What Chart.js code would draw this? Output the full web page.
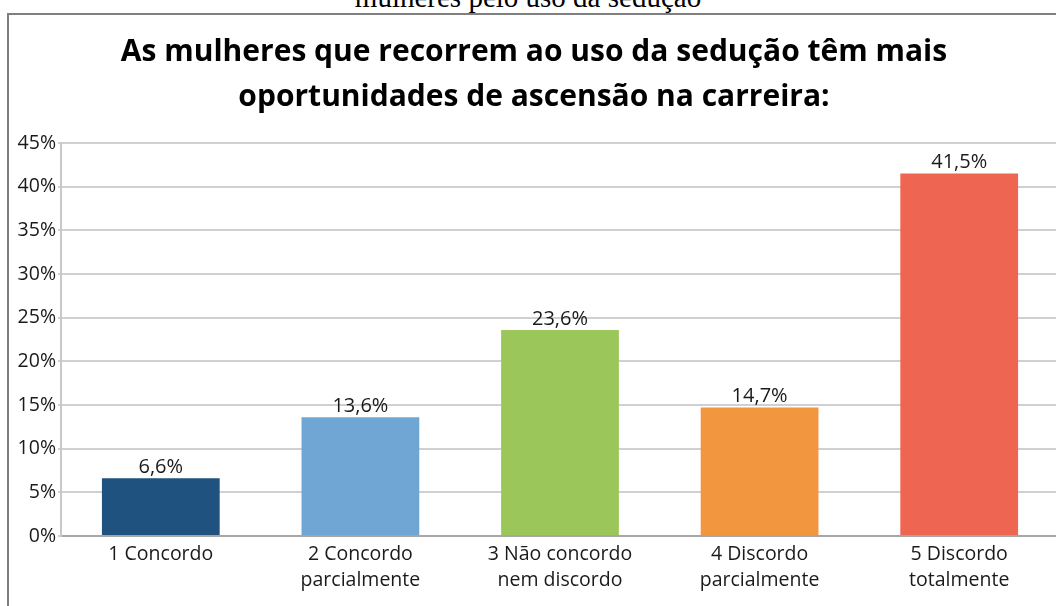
<!DOCTYPE html>
<html lang="pt">
<head>
<meta charset="utf-8">
<script src="https://cdn.jsdelivr.net/npm/chart.js@4.4.1/dist/chart.umd.min.js"></script>
<style>
    html, body { margin: 0; padding: 0; background: #fff; overflow: hidden; width: 1056px; height: 606px; }
    .caption {
        position: absolute; left: 0; top: -19px; width: 1056px; text-align: center;
        font-family: "Liberation Serif", "DejaVu Serif", serif; font-size: 29px; color: #000;
    }
    .frame {
        position: absolute; left: 7px; top: 13px; width: 1080px; height: 620px;
        border: 2px solid #7f7f7f; background: #fff;
    }
    .chart-box { position: absolute; left: 0; top: 0; width: 1060px; height: 600px; }
</style>
</head>
<body>
<div class="caption">mulheres pelo uso da sedução</div>
<div class="frame">
    <div class="chart-box"><canvas id="chart"></canvas></div>
</div>
<script>
    const categories = [
        ['1 Concordo'],
        ['2 Concordo', 'parcialmente'],
        ['3 Não concordo', 'nem discordo'],
        ['4 Discordo', 'parcialmente'],
        ['5 Discordo', 'totalmente']
    ];
    const percentages = [6.6, 13.6, 23.6, 14.7, 41.5];
    const barColors = ['#1f527f', '#6fa6d4', '#9bc65a', '#f39640', '#ee6651'];
    const titleLines = [
        'As mulheres que recorrem ao uso da sedução têm mais',
        'oportunidades de ascensão na carreira:'
    ];

    const fontFamily = '"Open Sans", "Noto Sans", sans-serif';
    const textColor = '#1a1a1a';
    const fmt = v => v.toFixed(1).replace('.', ',') + '%';

    // value labels above each bar
    const barLabels = {
        id: 'barLabels',
        afterDatasetsDraw(chart) {
            const ctx = chart.ctx;
            const meta = chart.getDatasetMeta(0);
            ctx.save();
            ctx.font = '20px ' + fontFamily;
            ctx.fillStyle = textColor;
            ctx.textAlign = 'center';
            ctx.textBaseline = 'bottom';
            meta.data.forEach((bar, i) => {
                ctx.fillText(fmt(percentages[i]), bar.x, bar.y - 1);
            });
            ctx.restore();
        }
    };

    new Chart(document.getElementById('chart'), {
        type: 'bar',
        data: {
            labels: categories,
            datasets: [{
                data: percentages,
                backgroundColor: barColors,
                borderWidth: 0,
                categoryPercentage: 1,
                barPercentage: 0.59
            }]
        },
        options: {
            responsive: true,
            maintainAspectRatio: false,
            animation: false,
            layout: { padding: { left: 0, right: 10, top: 0, bottom: 0 } },
            plugins: {
                legend: { display: false },
                tooltip: { enabled: false },
                title: {
                    display: true,
                    text: titleLines,
                    color: '#000',
                    font: { family: fontFamily, size: 30, weight: 'bold', lineHeight: 1.5 },
                    padding: { top: 15, bottom: 23 }
                }
            },
            scales: {
                x: {
                    grid: { display: false, drawTicks: false },
                    border: { color: '#a6a6a6', width: 2 },
                    ticks: {
                        color: textColor,
                        padding: 6,
                        font: { family: fontFamily, size: 19.5, lineHeight: 1.3 },
                        maxRotation: 0,
                        autoSkip: false
                    },
                    afterFit(scale) { scale.height = 79; }
                },
                y: {
                    min: 0,
                    max: 45,
                    grid: { color: '#d0d0d0', lineWidth: 2, tickLength: 3 },
                    border: { color: '#c8c8c8', width: 2 },
                    ticks: {
                        stepSize: 5,
                        color: textColor,
                        padding: 2,
                        font: { family: fontFamily, size: 19.5 },
                        callback: v => v + '%'
                    },
                    afterFit(scale) { scale.width = 52; }
                }
            }
        },
        plugins: [barLabels]
    });
</script>
</body>
</html>
